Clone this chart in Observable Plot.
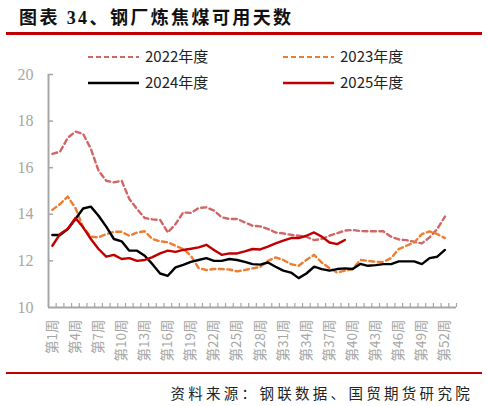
<!DOCTYPE html>
<html><head><meta charset="utf-8">
<script src="https://cdn.jsdelivr.net/npm/d3@7"></script>
<script src="https://cdn.jsdelivr.net/npm/@observablehq/plot@0.6"></script>
<style>
html,body{margin:0;padding:0;background:#fff;}
#wrap{position:relative;width:487px;height:406px;overflow:hidden;font-family:"Noto Sans CJK SC","Noto Sans",sans-serif;}
#title{position:absolute;left:19px;top:3px;font-size:18px;font-weight:bold;letter-spacing:2.4px;color:#111;font-family:"Liberation Serif","Noto Sans CJK SC",serif;white-space:nowrap;}
.rule{position:absolute;left:6px;width:476px;height:2.5px;background:#c00000;}
#chart{position:absolute;left:0;top:40px;}
#legend{position:absolute;left:0;top:0;}
.lg{position:absolute;font-size:15px;color:#222;white-space:nowrap;line-height:18px;}
#source{position:absolute;right:14px;top:382px;font-size:14.5px;letter-spacing:3.3px;color:#222;white-space:nowrap;}
</style></head>
<body>
<div id="wrap">
  <div id="title">图表 34、钢厂炼焦煤可用天数</div>
  <div class="rule" style="top:32px"></div>
  <div id="chart"></div>
  <div id="legend"></div>
  <div class="rule" style="top:371.5px"></div>
  <div id="source">资料来源：钢联数据、国贸期货研究院</div>
</div>
<script>
// ---- data (weekly values, days) ----
const years = ["2022年度", "2023年度", "2024年度", "2025年度"];
const colors = ["#d06666", "#ed7d31", "#000000", "#c00000"];
const dashes = ["5,3.5", "5,3.5", null, null];
const values2022 = [16.59,16.69,17.28,17.55,17.45,16.81,15.87,15.44,15.37,15.44,14.66,14.23,13.84,13.78,13.76,13.22,13.58,14.08,14.06,14.27,14.30,14.16,13.87,13.80,13.80,13.65,13.51,13.48,13.37,13.22,13.18,13.12,13.08,13.04,12.89,12.94,13.08,13.19,13.30,13.33,13.28,13.27,13.27,13.27,13.04,12.92,12.89,12.82,12.75,13.01,13.37,13.90];
const values2023 = [14.19,14.44,14.76,14.27,13.44,13.04,13.01,13.15,13.25,13.25,13.08,13.22,13.27,12.94,12.84,12.80,12.65,12.51,12.22,11.69,11.61,11.65,11.65,11.63,11.55,11.61,11.68,11.74,12.00,12.15,12.04,11.86,11.79,12.04,12.26,11.93,11.69,11.50,11.58,11.65,12.04,12.00,11.96,11.96,12.12,12.51,12.65,12.79,13.15,13.27,13.15,12.98];
const values2024 = [13.11,13.11,13.37,13.80,14.25,14.33,13.94,13.47,12.94,12.84,12.44,12.44,12.22,11.86,11.46,11.36,11.72,11.83,11.96,12.04,12.12,12.00,12.00,12.08,12.04,11.96,11.86,11.84,11.93,11.75,11.58,11.50,11.26,11.46,11.75,11.65,11.58,11.65,11.68,11.65,11.87,11.79,11.82,11.86,11.86,11.98,11.98,11.98,11.86,12.12,12.18,12.47];
const values2025 = [12.65,13.15,13.37,13.84,13.44,12.94,12.51,12.18,12.26,12.08,12.12,12.00,12.04,12.16,12.32,12.44,12.39,12.47,12.52,12.58,12.69,12.47,12.26,12.32,12.32,12.41,12.51,12.49,12.61,12.75,12.87,12.98,12.98,13.08,13.22,13.04,12.79,12.72,12.90];
const series = [values2022, values2023, values2024, values2025];
const weekCount = 53;
const tickWeeks = [1,4,7,10,13,16,19,22,25,28,31,34,37,40,43,46,49,52];
const yTicks = [10,12,14,16,18,20];

const rows = series.map((vals, s) => vals.map((v, i) => ({week: i + 1, value: v, year: years[s]})));

const gray = "#a6a6a6";
const W = 487, H = 330, mL = 48, mR = 31, mT = 34, mB = 63;
const pxPerWeek = (W - mL - mR) / weekCount;
const pxPerUnit = (H - mT - mB) / (yTicks[yTicks.length-1] - yTicks[0]);
const x0 = 0.5, x1 = weekCount + 0.5;
const boundaries = d3.range(0, weekCount + 1).map(i => i + 0.5);

const marks = [
  // axis lines
  Plot.ruleX([x0], {y1: yTicks[0], y2: yTicks[yTicks.length-1], stroke: gray, strokeWidth: 2}),
  Plot.ruleY([yTicks[0]], {x1: x0, x2: x1, stroke: gray, strokeWidth: 2}),
  // inward ticks
  Plot.ruleY(yTicks.slice(1), {x1: x0, x2: x0 + 5 / pxPerWeek, stroke: gray, strokeWidth: 1.5}),
  Plot.ruleX(boundaries.slice(1), {y1: yTicks[0], y2: yTicks[0] + 4 / pxPerUnit, stroke: gray, strokeWidth: 1.2}),
  Plot.axisY({ticks: yTicks, tickSize: 0, tickPadding: 15, fontSize: 16, fontFamily: "Liberation Serif", fill: gray, label: null}),
  Plot.axisX({ticks: tickWeeks, tickFormat: d => `第${d}周`, tickRotate: -90, tickSize: 0, tickPadding: 12, fontSize: 13.5, fill: gray, fontFamily: "Noto Sans CJK SC", label: null}),
  ...rows.map((r, s) => Plot.line(r, {x: "week", y: "value", stroke: colors[s], strokeWidth: 2.4, strokeDasharray: dashes[s], curve: "linear"}))
];

const plot = Plot.plot({
  width: W, height: H,
  marginLeft: mL, marginRight: mR, marginTop: mT, marginBottom: mB,
  x: {type: "linear", domain: [x0, x1], axis: null, label: null},
  y: {type: "linear", domain: [yTicks[0], yTicks[yTicks.length-1]], axis: null, label: null},
  style: {background: "transparent", overflow: "visible"},
  marks
});
document.getElementById("chart").appendChild(plot);

// legend (inside plot area, top)
const legendPos = [[88, 57], [283, 57], [88, 83], [283, 83]];
const lg = document.getElementById("legend");
years.forEach((name, s) => {
  const [lx, ly] = legendPos[s];
  const ns = "http://www.w3.org/2000/svg";
  const svg = document.createElementNS(ns, "svg");
  svg.setAttribute("width", 52); svg.setAttribute("height", 6);
  svg.style.position = "absolute"; svg.style.left = lx + "px"; svg.style.top = (ly - 3) + "px";
  const ln = document.createElementNS(ns, "line");
  ln.setAttribute("x1", 0); ln.setAttribute("x2", 51); ln.setAttribute("y1", 3); ln.setAttribute("y2", 3);
  ln.setAttribute("stroke", colors[s]); ln.setAttribute("stroke-width", dashes[s] ? 2 : 2.6);
  if (dashes[s]) ln.setAttribute("stroke-dasharray", "5,3");
  svg.appendChild(ln);
  lg.appendChild(svg);
  const t = document.createElement("div");
  t.className = "lg"; t.textContent = name;
  t.style.left = (lx + 57) + "px"; t.style.top = (ly - 10) + "px";
  lg.appendChild(t);
});
</script>
</body></html>
